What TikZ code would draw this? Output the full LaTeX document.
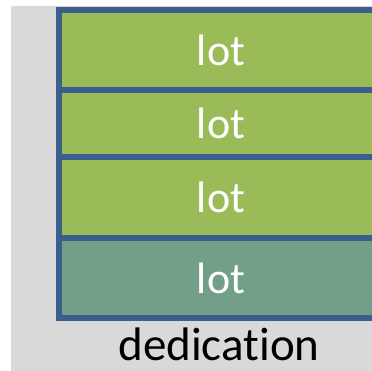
\documentclass[tikz,border=0pt]{standalone}
\usepackage{fontspec}
\setmainfont[Ligatures=NoCommon]{Carlito}
\definecolor{bgc}{HTML}{D9D9D9}
\definecolor{lotg}{HTML}{9BBB59}
\definecolor{lott}{HTML}{739F89}
\definecolor{edgec}{HTML}{3A5F8C}
\begin{document}
\begin{tikzpicture}[x=1pt,y=-1pt,
  lotbox/.style={draw=edgec,line width=5.5pt,text=white,font=\fontsize{44}{44}\selectfont},
  caption/.style={font=\fontsize{47}{47}\selectfont,text=black,inner sep=0pt}]
\useasboundingbox (0,0) rectangle (372,371);
\begin{scope}
\clip (0,0) rectangle (372,371);
\fill[bgc,rounded corners=2pt] (11,6) rectangle (400,400);
\draw[lotbox,fill=lotg] (59,10) rectangle (400,90);
\draw[lotbox,fill=lotg] (59,90) rectangle (400,157);
\draw[lotbox,fill=lotg] (59,157) rectangle (400,238);
\draw[lotbox,fill=lott] (59,238) rectangle (400,318);
\end{scope}
\node[lotbox,draw=none,inner sep=0pt] (l1) at (221,50) {lot};
\node[lotbox,draw=none,inner sep=0pt] (l2) at (221,123.5) {lot};
\node[lotbox,draw=none,inner sep=0pt] (l3) at (221,197.5) {lot};
\node[lotbox,draw=none,inner sep=0pt] (l4) at (221,278) {lot};
\node[caption] (ded) at (219,344) {dedication};
\end{tikzpicture}
\end{document}
